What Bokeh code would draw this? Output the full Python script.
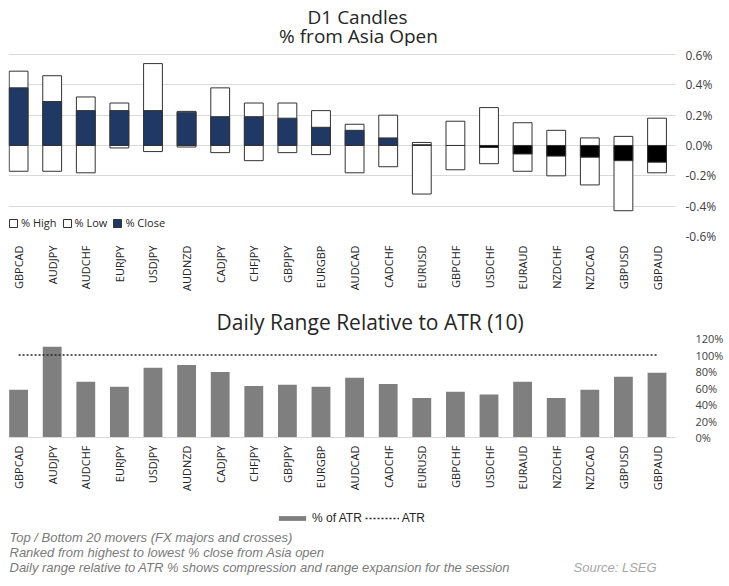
import math
from bokeh.plotting import figure
from bokeh.models import (ColumnDataSource, Range1d, FixedTicker, PrintfTickFormatter,
                          Legend, LegendItem, Title)
from bokeh.layouts import column
from bokeh.core.properties import value
from bokeh.embed import file_html
from bokeh.resources import INLINE

# ---------------- data ----------------
pairs = ["GBPCAD", "AUDJPY", "AUDCHF", "EURJPY", "USDJPY", "AUDNZD", "CADJPY", "CHFJPY",
         "GBPJPY", "EURGBP", "AUDCAD", "CADCHF", "EURUSD", "GBPCHF", "USDCHF", "EURAUD",
         "NZDCHF", "NZDCAD", "GBPUSD", "GBPAUD"]
pct_high = [0.49, 0.46, 0.32, 0.28, 0.54, 0.225, 0.38, 0.28, 0.28, 0.23,
            0.14, 0.20, 0.02, 0.16, 0.25, 0.15, 0.10, 0.05, 0.06, 0.18]
pct_low = [-0.17, -0.17, -0.18, -0.016, -0.04, -0.01, -0.047, -0.10, -0.047, -0.06,
           -0.18, -0.14, -0.32, -0.16, -0.12, -0.17, -0.20, -0.26, -0.43, -0.18]
pct_close = [0.38, 0.29, 0.23, 0.23, 0.23, 0.22, 0.19, 0.19, 0.18, 0.12,
             0.10, 0.05, 0.005, 0.0, -0.013, -0.056, -0.07, -0.077, -0.10, -0.11]
pct_of_atr = [58, 110, 67.5, 61.5, 84.5, 88, 79.5, 62.5, 64, 61.5,
              72.5, 65, 48, 55.5, 52, 67.5, 48, 58, 73.5, 78.5]
atr_level = [100] * len(pairs)

top_ticks = [-0.6, -0.4, -0.2, 0.0, 0.2, 0.4, 0.6]
bottom_ticks = [0, 20, 40, 60, 80, 100, 120]

titles = ["D1 Candles", "% from Asia Open"]
notes = ["Top / Bottom 20 movers (FX majors and crosses)",
         "Ranked from highest to lowest % close from Asia open",
         "Daily range relative to ATR % shows compression and range expansion for the session"]
source_note = "Source: LSEG"

# ---------------- styling ----------------
FONT = "Open Sans"
NOTE_FONT = "Liberation Sans"
NAVY = "#1f3864"
NEG = "#000000"
EDGE = "#333333"
GRID = "#d9d9d9"
TXT = "#262626"
BAR = "#7f7f7f"

xs = list(range(len(pairs)))
close_colors = [NAVY if c >= 0 else NEG for c in pct_close]
src = ColumnDataSource(dict(x=xs, pair=pairs, high=pct_high, low=pct_low, close=pct_close,
                            ccol=close_colors, atr=pct_of_atr, lvl=atr_level))
overrides = {i: p for i, p in enumerate(pairs)}

FRAME_W = 667


def no_ticks(ax):
    ax.major_tick_line_color = None
    ax.minor_tick_line_color = None
    ax.major_tick_out = 0
    ax.major_tick_in = 0
    ax.minor_tick_out = 0
    ax.minor_tick_in = 0


def x_axis_style(ax, standoff):
    ax.ticker = FixedTicker(ticks=xs)
    ax.major_label_overrides = overrides
    ax.major_label_orientation = math.pi / 2
    ax.major_label_text_font = FONT
    ax.major_label_text_font_size = "11px"
    ax.major_label_text_color = TXT
    no_ticks(ax)
    ax.major_label_standoff = standoff


def blank_panel(h):
    p = figure(frame_width=FRAME_W, frame_height=h, output_backend="svg",
               toolbar_location=None, x_range=Range1d(8, 675), y_range=Range1d(0, h),
               min_border_left=8, min_border_right=46, min_border_top=0, min_border_bottom=0,
               title=None)
    p.axis.visible = False
    p.grid.visible = False
    p.outline_line_color = None
    return p


# ---------------- heading ----------------
p0 = blank_panel(46)
p0.text(x=[357, 358], y=[30, 11], text=titles, text_font=value(FONT),
        text_font_size="19px", text_color=TXT, text_align="center", text_baseline="middle")

# ---------------- top: candles ----------------
# a little headroom above the 0.6% line so that its tick label is not cut
p1 = figure(frame_width=FRAME_W, frame_height=190, output_backend="svg", toolbar_location=None,
            x_range=Range1d(-0.3, 19.55), y_range=Range1d(-0.6, 0.6527),
            y_axis_location="right", title=None,
            min_border_left=8, min_border_right=46, min_border_top=0, min_border_bottom=64)
p1.outline_line_color = None
p1.xgrid.grid_line_color = None
p1.ygrid.grid_line_color = GRID
p1.ygrid.ticker = FixedTicker(ticks=top_ticks)

r_high = p1.vbar(x="x", top="high", bottom=0, width=0.56, source=src,
                 fill_color="white", line_color=EDGE, line_width=1)
r_low = p1.vbar(x="x", top=0, bottom="low", width=0.56, source=src,
                fill_color="white", line_color=EDGE, line_width=1)
r_close = p1.vbar(x="x", top="close", bottom=0, width=0.56, source=src,
                  fill_color="ccol", line_color=EDGE, line_width=1)

ya = p1.yaxis[0]
ya.ticker = FixedTicker(ticks=top_ticks)
ya.formatter = PrintfTickFormatter(format="%.1f%%")
ya.axis_line_color = None
no_ticks(ya)
ya.major_label_text_font = FONT
ya.major_label_text_font_size = "12px"
ya.major_label_text_color = "#404040"
ya.major_label_standoff = 10

xa = p1.xaxis[0]
x_axis_style(xa, 9)
xa.axis_line_color = None

leg1 = Legend(items=[LegendItem(label="% High", renderers=[r_high], index=0),
                     LegendItem(label="% Low", renderers=[r_low], index=0),
                     LegendItem(label="% Close", renderers=[r_close], index=0)],
              orientation="horizontal", location=(0, 6),
              glyph_width=10, glyph_height=10, label_standoff=3, spacing=5,
              padding=0, margin=0, label_height=14,
              label_text_font=FONT, label_text_font_size="11px", label_text_color=TXT,
              background_fill_alpha=0, border_line_color=None)
p1.add_layout(leg1, "center")

# ---------------- bottom: ATR bars ----------------
p2 = figure(frame_width=FRAME_W, frame_height=99, output_backend="svg", toolbar_location=None,
            x_range=Range1d(-0.3, 19.55), y_range=Range1d(0, 120),
            y_axis_location="right", title=None,
            min_border_left=8, min_border_right=46, min_border_top=38, min_border_bottom=63)
p2.outline_line_color = None
p2.xgrid.grid_line_color = None
p2.ygrid.grid_line_color = None

p2.vbar(x="x", top="atr", bottom=0, width=0.56, source=src,
        fill_color=BAR, line_color=None)
p2.line(x="x", y="lvl", source=src, line_color=TXT, line_width=1.5, line_dash="2 2")

ya2 = p2.yaxis[0]
ya2.ticker = FixedTicker(ticks=bottom_ticks)
ya2.formatter = PrintfTickFormatter(format="%d%%")
ya2.axis_line_color = None
no_ticks(ya2)
ya2.major_label_text_font = FONT
ya2.major_label_text_font_size = "11px"
ya2.major_label_text_color = "#404040"
ya2.major_label_standoff = 20

xa2 = p2.xaxis[0]
x_axis_style(xa2, 8)
xa2.axis_line_color = GRID

p2.add_layout(Title(text="Daily Range Relative to ATR (10)", align="left", offset=208,
                    standoff=5, text_font=FONT, text_font_size="21px",
                    text_font_style="normal", text_color=TXT), "above")

# ---------------- notes + bottom legend ----------------
p3 = blank_panel(78)

# legend keys (hidden renderers reusing the bar/line data so the legend can draw them)
key_bar = p3.vbar(x="x", top="atr", width=0.56, source=src, fill_color=BAR,
                  line_color=None, visible=False)
key_line = p3.line(x="x", y="lvl", source=src, line_color=TXT, line_width=1.5,
                   line_dash="2 2", visible=False)

leg2 = Legend(items=[LegendItem(label="% of ATR", renderers=[key_bar], index=0),
                     LegendItem(label="ATR", renderers=[key_line], index=0)],
              orientation="horizontal", location=(267, 53),
              glyph_width=34, glyph_height=6, label_standoff=3, spacing=3,
              padding=0, margin=0, label_height=14,
              label_text_font=NOTE_FONT, label_text_font_size="12px", label_text_color=TXT,
              background_fill_alpha=0, border_line_color=None,
              inactive_fill_alpha=0, click_policy="none")
p3.add_layout(leg2, "center")

p3.text(x=[9, 9, 9], y=[41, 26, 11], text=notes, text_font=value(NOTE_FONT),
        text_font_size="13px", text_font_style="italic", text_color="#7a7a7a",
        text_baseline="middle", text_align="left")
p3.text(x=[573], y=[11], text=[source_note], text_font=value(NOTE_FONT),
        text_font_size="13px", text_font_style="italic", text_color="#a6a6a6",
        text_baseline="middle", text_align="left")

layout = column(p0, p1, p2, p3, spacing=0)
open("out.html", "w").write(file_html(layout, INLINE))
